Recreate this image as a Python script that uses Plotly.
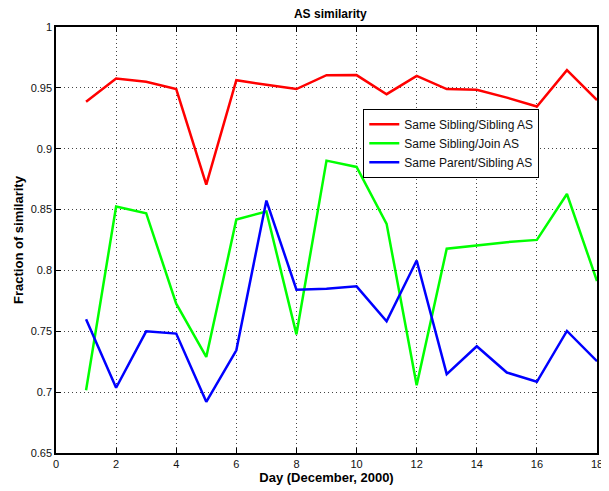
import plotly.graph_objects as go

days = list(range(1, 19))
sib_sib = [0.9385, 0.9576, 0.955, 0.949, 0.8705, 0.9563, 0.9525, 0.949, 0.9604,
           0.9605, 0.9448, 0.9598, 0.949, 0.9484, 0.942, 0.9347, 0.9645, 0.940]
sib_join = [0.7016, 0.8525, 0.847, 0.7727, 0.7289, 0.8418, 0.8484, 0.7475, 0.8902,
            0.8850, 0.8383, 0.7057, 0.8178, 0.8205, 0.8232, 0.8251, 0.8628, 0.7913]
par_sib = [0.7598, 0.7036, 0.750, 0.7481, 0.6921, 0.7344, 0.8574, 0.7842, 0.785,
           0.7869, 0.7582, 0.8082, 0.7148, 0.7377, 0.7161, 0.7085, 0.7503, 0.7254]

series = [
    ("Same Sibling/Sibling AS", sib_sib, "#ff0000"),
    ("Same Sibling/Join AS", sib_join, "#00ff00"),
    ("Same Parent/Sibling AS", par_sib, "#0000ff"),
]

x_ticks = list(range(0, 19, 2))
y_ticks = [0.65, 0.7, 0.75, 0.8, 0.85, 0.9, 0.95, 1.0]
y_labels = ["0.65", "0.7", "0.75", "0.8", "0.85", "0.9", "0.95", "1"]

fig = go.Figure()
for name, vals, col in series:
    fig.add_trace(go.Scatter(x=days, y=vals, mode="lines", name=name,
                             line=dict(color=col, width=2.5)))

font = "Liberation Sans, Arial, Helvetica, sans-serif"
fig.update_layout(
    width=601, height=483,
    margin=dict(l=48, r=12, t=19, b=38),
    paper_bgcolor="white", plot_bgcolor="white",
    font=dict(family=font, size=11, color="#111111"),
    title=dict(text="<b>AS similarity</b>", x=0.5363, xanchor="center",
               y=0.989, yanchor="middle", font=dict(size=12, color="black")),
    legend=dict(x=0.568, y=0.808, xanchor="left", yanchor="top",
                bordercolor="black", borderwidth=1, bgcolor="white",
                font=dict(size=12, color="#111111"), tracegroupgap=0),
)
grid = dict(showgrid=True, gridcolor="#444444", griddash="1px,3px", gridwidth=1)
fig.update_xaxes(
    range=[0, 18], tickvals=x_ticks, ticktext=[str(t) for t in x_ticks],
    showline=True, linecolor="black", linewidth=1.5, mirror="ticks",
    ticks="inside", ticklen=5, tickcolor="black", automargin=False,
    zeroline=False, **grid,
    title=dict(text="<b>Day (December, 2000)</b>", font=dict(size=13, color="black"), standoff=1),
)
fig.update_yaxes(
    range=[0.65, 1.0], tickvals=y_ticks, ticktext=y_labels,
    showline=True, linecolor="black", linewidth=1.5, mirror="ticks",
    ticks="inside", ticklen=5, tickcolor="black", automargin=False,
    zeroline=False, **grid,
    title=dict(text="<b>Fraction of similarity</b>", font=dict(size=13, color="black"), standoff=4),
)

fig.write_html("out.html")
